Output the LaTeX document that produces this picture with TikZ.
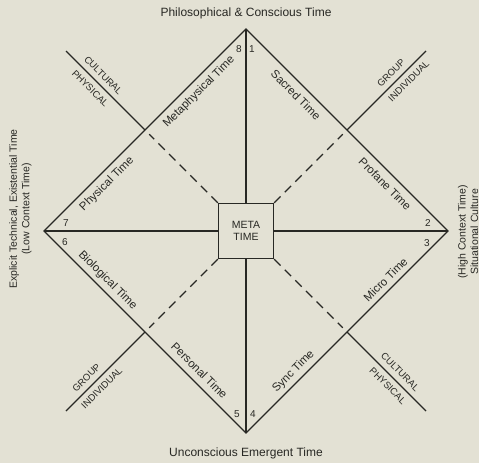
\documentclass[tikz,border=0pt]{standalone}
\usepackage{fontspec}
\setmainfont{Liberation Sans}
\usetikzlibrary{calc}
\definecolor{paper}{RGB}{227,225,212}
\definecolor{ink}{RGB}{40,40,36}
\begin{document}
\begin{tikzpicture}[x=1pt,y=-1pt,line width=1.3pt,color=ink,
  edgelbl/.style={font=\fontsize{11.5}{13}\selectfont,inner sep=0pt},
  grplbl/.style={font=\fontsize{9.5}{11}\selectfont,inner sep=0pt},
  numlbl/.style={font=\fontsize{10}{12}\selectfont,inner sep=0pt},
  axislbl/.style={font=\fontsize{12}{14}\selectfont,inner sep=0pt},
  sidelbl/.style={font=\fontsize{10.5}{12.5}\selectfont,rotate=90,align=center,inner sep=0pt},
  dashline/.style={dash pattern=on 9pt off 6pt,shorten >=6pt},
  metabox/.style={draw,minimum size=55pt,inner sep=0pt,align=center,
    font=\fontsize{10.5}{11.5}\selectfont}]
\fill[paper] (0,0) rectangle (479,463);
\useasboundingbox (0,0) rectangle (479,463);
% diamond vertices
\coordinate (T) at (246,29);
\coordinate (R) at (448,231);
\coordinate (B) at (246,433);
\coordinate (L) at (44,231);
\node[metabox] (M) at (246,231) {META\\TIME};
% edge midpoints and outer ends
\coordinate (mUL) at ($(L)!0.5!(T)$);
\coordinate (mUR) at ($(T)!0.5!(R)$);
\coordinate (mLL) at ($(L)!0.5!(B)$);
\coordinate (mLR) at ($(R)!0.5!(B)$);
\coordinate (oUL) at ($(mUL)+(-79,-79)$);
\coordinate (oUR) at ($(mUR)+(79,-79)$);
\coordinate (oLL) at ($(mLL)+(-79,79)$);
\coordinate (oLR) at ($(mLR)+(79,79)$);
% lines
\draw (L) -- (T) -- (R) -- (B) -- cycle;
\draw (T) -- (M);
\draw (B) -- (M);
\draw (L) -- (M);
\draw (R) -- (M);
\draw (oUL) -- (mUL);
\draw (oUR) -- (mUR);
\draw (oLL) -- (mLL);
\draw (oLR) -- (mLR);
\draw[dashline] (M.north west) -- (mUL);
\draw[dashline] (M.north east) -- (mUR);
\draw[dashline] (M.south west) -- (mLL);
\draw[dashline] (M.south east) -- (mLR);
% edge labels
\node[edgelbl,rotate=45] (lmeta) at ($(L)!0.728!(T)+(8,8)$) {Metaphysical Time};
\node[edgelbl,rotate=45] (lphys) at ($(L)!0.272!(T)+(8,8)$) {Physical Time};
\node[edgelbl,rotate=-45] (lsacred) at ($(T)!0.287!(R)+(-8,8)$) {Sacred Time};
\node[edgelbl,rotate=-45] (lprofane) at ($(T)!0.728!(R)+(-8,8)$) {Profane Time};
\node[edgelbl,rotate=-45] (lbio) at ($(L)!0.28!(B)+(7,-7)$) {Biological Time};
\node[edgelbl,rotate=-45] (lpers) at ($(L)!0.73!(B)+(8,-8)$) {Personal Time};
\node[edgelbl,rotate=45] (lmicro) at ($(R)!0.275!(B)+(-7,-7)$) {Micro Time};
\node[edgelbl,rotate=45] (lsync) at ($(R)!0.73!(B)+(-7,-7)$) {Sync Time};
% group labels
\node[grplbl,rotate=-45] (gulc) at ($(oUL)!0.39!(mUL)+(6.5,-6.5)$) {CULTURAL};
\node[grplbl,rotate=-45] (gulp) at ($(oUL)!0.39!(mUL)+(-6.5,6.5)$) {PHYSICAL};
\node[grplbl,rotate=45] (gurg) at ($(oUR)!0.36!(mUR)+(-6.5,-6.5)$) {GROUP};
\node[grplbl,rotate=45] (guri) at ($(oUR)!0.3!(mUR)+(6.5,6.5)$) {INDIVIDUAL};
\node[grplbl,rotate=45] (gllg) at ($(oLL)!0.34!(mLL)+(-6.5,-6.5)$) {GROUP};
\node[grplbl,rotate=45] (glli) at ($(oLL)!0.37!(mLL)+(6.5,6.5)$) {INDIVIDUAL};
\node[grplbl,rotate=-45] (glrc) at ($(oLR)!0.41!(mLR)+(6.5,-6.5)$) {CULTURAL};
\node[grplbl,rotate=-45] (glrp) at ($(oLR)!0.4!(mLR)+(-6.5,6.5)$) {PHYSICAL};
% numbers
\node[numlbl] (n8) at (239,49) {8};
\node[numlbl] (n1) at (252,49) {1};
\node[numlbl] (n7) at (66,223) {7};
\node[numlbl] (n6) at (65,242) {6};
\node[numlbl] (n2) at (428,223) {2};
\node[numlbl] (n3) at (427,243) {3};
\node[numlbl] (n5) at (237,414) {5};
\node[numlbl] (n4) at (253,414) {4};
% axis labels
\node[axislbl] (top) at (246,13) {Philosophical \& Conscious Time};
\node[axislbl] (bottom) at (246,453) {Unconscious Emergent Time};
\node[sidelbl] (left) at (20.5,209) {Explicit Technical, Existential Time\\(Low Context Time)};
\node[sidelbl] (right) at (468,232) {(High Context Time)\\Situational Culture};
\end{tikzpicture}
\end{document}
